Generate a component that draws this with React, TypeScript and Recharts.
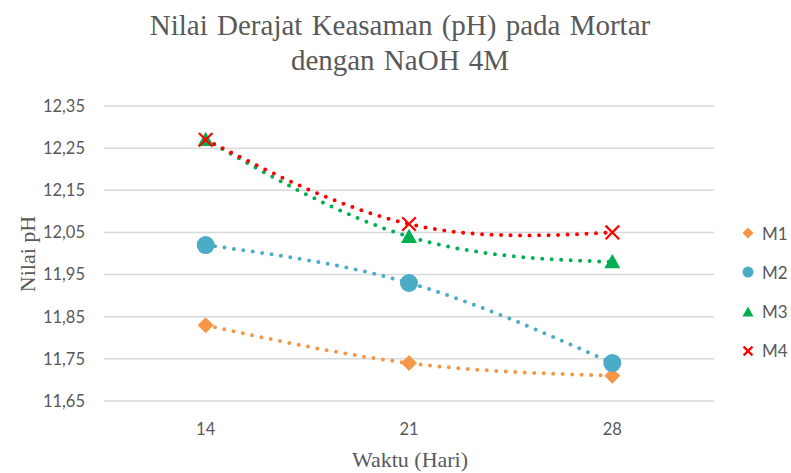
import React from 'react'
import { LineChart, Line, XAxis, YAxis, CartesianGrid } from 'recharts'

const days = ['14', '21', '28']
const m1 = [11.83, 11.74, 11.71]
const m2 = [12.02, 11.93, 11.74]
const m3 = [12.27, 12.04, 11.98]
const m4 = [12.27, 12.07, 12.05]
const yTicks = [11.65, 11.75, 11.85, 11.95, 12.05, 12.15, 12.25, 12.35]
const seriesNames = ['M1', 'M2', 'M3', 'M4']

const COLORS: Record<string, string> = {
  M1: '#F79646',
  M2: '#4BACC6',
  M3: '#00B050',
  M4: '#FF0000',
}

const data = days.map((d, i) => ({ day: d, M1: m1[i], M2: m2[i], M3: m3[i], M4: m4[i] }))

const TEXT = '#595959'
const SANS = 'Lato, "Open Sans", sans-serif'
const SERIF = '"Liberation Serif", "Times New Roman", serif'

// marker shapes, r = half size
function Marker({ name, cx, cy, r }: { name: string; cx: number; cy: number; r: number }) {
  const c = COLORS[name]
  if (name === 'M1') {
    return <polygon points={`${cx},${cy - r} ${cx + r},${cy} ${cx},${cy + r} ${cx - r},${cy}`} fill={c} />
  }
  if (name === 'M2') {
    return <circle cx={cx} cy={cy} r={r} fill={c} />
  }
  if (name === 'M3') {
    return <polygon points={`${cx},${cy - r} ${cx + r},${cy + r * 0.8} ${cx - r},${cy + r * 0.8}`} fill={c} />
  }
  const a = r * 0.8
  return (
    <g stroke={c} strokeWidth={2.2}>
      <line x1={cx - a} y1={cy - a} x2={cx + a} y2={cy + a} />
      <line x1={cx - a} y1={cy + a} x2={cx + a} y2={cy - a} />
    </g>
  )
}

const dotSize: Record<string, number> = { M1: 8, M2: 9, M3: 8, M4: 8.5 }

function makeDot(name: string) {
  return (props: any) => {
    const { cx, cy, index } = props
    if (cx == null || cy == null) return <g key={index} />
    return (
      <g key={`${name}-${index}`}>
        <Marker name={name} cx={cx} cy={cy} r={dotSize[name]} />
      </g>
    )
  }
}

const fmt = (v: number) => v.toFixed(2).replace('.', ',')

export default function App() {
  return (
    <div style={{ position: 'absolute', left: 0, top: 0, width: 791, height: 473, background: '#fff' }}>
      {/* Title */}
      <div
        style={{
          position: 'absolute',
          left: 0,
          top: 8,
          width: 800,
          textAlign: 'center',
          fontFamily: SERIF,
          fontSize: 29,
          lineHeight: '35px',
          color: TEXT,
          wordSpacing: 2,
        }}
      >
        Nilai Derajat Keasaman (pH) pada Mortar
        <br />
        dengan NaOH 4M
      </div>

      <LineChart
        width={791}
        height={473}
        data={data}
        margin={{ top: 106, right: 77, bottom: 0, left: 14 }}
      >
        <CartesianGrid vertical={false} stroke="#D9D9D9" strokeWidth={1.5} />
        <XAxis
          dataKey="day"
          scale="band"
          height={72}
          axisLine={false}
          tickLine={false}
          tickMargin={16}
          tick={{ fill: TEXT, fontSize: 16.5, fontFamily: SANS }}
        />
        <YAxis
          width={90}
          domain={[11.65, 12.35]}
          ticks={yTicks}
          interval={0}
          axisLine={false}
          tickLine={false}
          tickMargin={13}
          tickFormatter={fmt}
          tick={{ fill: TEXT, fontSize: 16.5, fontFamily: SANS }}
        />
        {seriesNames.map((name) => (
          <Line
            key={name}
            dataKey={name}
            type="natural"
            stroke={COLORS[name]}
            strokeWidth={4}
            strokeDasharray="0 9.5"
            strokeLinecap="round"
            dot={makeDot(name)}
            activeDot={false}
            isAnimationActive={false}
          />
        ))}
      </LineChart>

      {/* Axis titles */}
      <div
        style={{
          position: 'absolute',
          left: 28,
          top: 254,
          transform: 'translate(-50%, -50%) rotate(-90deg)',
          whiteSpace: 'nowrap',
          fontFamily: SERIF,
          fontSize: 22,
          color: TEXT,
        }}
      >
        Nilai pH
      </div>
      <div
        style={{
          position: 'absolute',
          left: 410,
          top: 460,
          transform: 'translate(-50%, -50%)',
          whiteSpace: 'nowrap',
          fontFamily: SERIF,
          fontSize: 22,
          color: TEXT,
        }}
      >
        Waktu (Hari)
      </div>

      {/* Legend */}
      <div style={{ position: 'absolute', left: 740, top: 220 }}>
        {seriesNames.map((name) => (
          <div
            key={name}
            style={{ display: 'flex', alignItems: 'center', height: 26, marginBottom: 13.3 }}
          >
            <svg width={16} height={16} style={{ marginRight: 6 }}>
              <Marker name={name} cx={8} cy={8} r={5.5} />
            </svg>
            <span style={{ fontFamily: SANS, fontSize: 17, color: TEXT }}>{name}</span>
          </div>
        ))}
      </div>
    </div>
  )
}
